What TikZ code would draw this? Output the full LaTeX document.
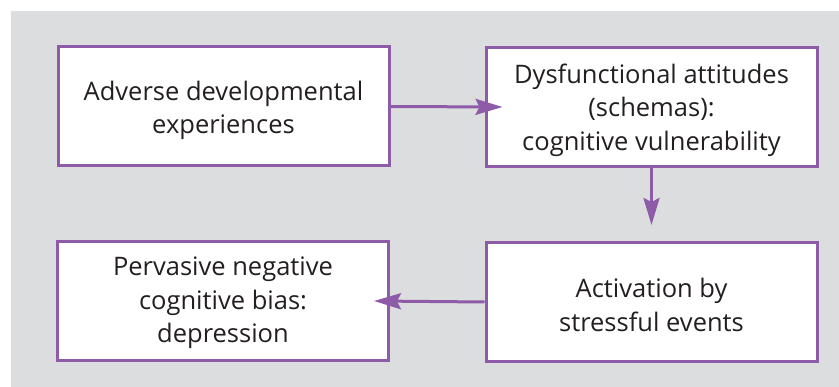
\documentclass[tikz,border=0pt]{standalone}
\usepackage{fontspec}
\setmainfont{Open Sans}
\usetikzlibrary{arrows.meta}
\definecolor{bgray}{HTML}{DCDDDF}
\definecolor{purp}{HTML}{8E5BA8}
\definecolor{txt}{HTML}{231F20}
\begin{document}
\begin{tikzpicture}[x=1pt,y=-1pt,
  box/.style={draw=purp, line width=3pt, fill=white, minimum width=331pt, minimum height=119pt, inner sep=0pt},
  lbl/.style={align=center, text=txt, font=\fontsize{25.5pt}{33.5pt}\selectfont, inner sep=0pt},
  arr/.style={draw=purp, line width=3pt, -{Stealth[length=27pt,width=16pt,inset=4pt]}}]
\useasboundingbox (0,0) rectangle (839,387);
\fill[white] (0,0) rectangle (839,387);
\fill[bgray] (11,11) rectangle (839,387);
\node[box] (A) at (223.5,106.5) {};
\node[box] (B) at (651.5,107) {};
\node[box] (C) at (651.5,302) {};
\node[box] (D) at (223,301) {};
\node[lbl] (At) at ([yshift=-4pt]A.center) {Adverse developmental\\experiences};
\node[lbl] (Bt) at ([yshift=-3pt]B.center) {Dysfunctional attitudes\\(schemas):\\cognitive vulnerability};
\node[lbl] (Ct) at ([yshift=-3pt]C.center) {Activation by\\stressful events};
\node[lbl] (Dt) at ([yshift=-2pt]D.center) {Pervasive negative\\cognitive bias:\\depression};
\draw[arr] (A.east) -- ([xshift=18pt]B.west);
\draw[arr] (B.south) -- ([yshift=16pt]C.north);
\draw[arr] (C.west) -- ([xshift=-16pt]D.east);
\end{tikzpicture}
\end{document}
